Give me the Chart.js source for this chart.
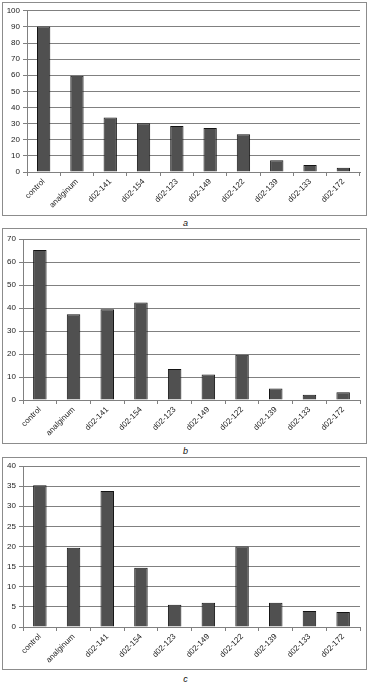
<!DOCTYPE html>
<html>
<head>
<meta charset="utf-8">
<script src="https://cdn.jsdelivr.net/npm/chart.js@4"></script>
<style>
    body { margin: 0; background: #fff; width: 371px; height: 686px; position: relative; font-family: "Liberation Sans", Arial, sans-serif; }
    .panel { position: absolute; left: 2px; width: 363px; border: 1px solid #8c8c8c; }
    .panel canvas { display: block; }
    .caption { position: absolute; left: 0; width: 371px; text-align: center; font-style: italic; font-size: 9px; color: #111; }
</style>
</head>
<body>
<div class="panel" id="panel-a" style="top:2px;height:212px"><canvas id="chart-a"></canvas></div>
<div class="caption" style="top:218px">a</div>
<div class="panel" id="panel-b" style="top:228px;height:214px"><canvas id="chart-b"></canvas></div>
<div class="caption" style="top:446px">b</div>
<div class="panel" id="panel-c" style="top:457px;height:211px"><canvas id="chart-c"></canvas></div>
<div class="caption" style="top:674px">c</div>
<script>
const categories = ["control", "analginum", "d02-141", "d02-154", "d02-123", "d02-149", "d02-122", "d02-139", "d02-133", "d02-172"];

const valuesA = [90.2, 59.7, 33.8, 30.3, 28.6, 27.3, 23.4, 7.3, 4.4, 2.7];
const valuesB = [65.2, 37.3, 39.5, 42.4, 13.5, 11.1, 19.7, 5.0, 2.3, 3.4];
const valuesC = [35.2, 19.7, 33.8, 14.7, 5.5, 6.0, 20.0, 6.0, 4.0, 3.7];

const ticksA = { max: 100, step: 10 };
const ticksB = { max: 70, step: 10 };
const ticksC = { max: 40, step: 5 };

function makeChart(canvasId, values, yTicks, yWidth, xHeight, padTop) {
    let canvas = document.getElementById(canvasId);
    return new Chart(canvas, {
        type: 'bar',
        data: {
            labels: categories,
            datasets: [{
                data: values,
                backgroundColor: '#505050',
                borderColor: '#141414',
                borderWidth: 1,
                categoryPercentage: 1,
                barPercentage: 0.4
            }]
        },
        options: {
            responsive: true,
            maintainAspectRatio: false,
            animation: false,
            layout: { padding: { top: padTop, right: 6, bottom: 0, left: 0 } },
            plugins: {
                legend: { display: false },
                tooltip: { enabled: false }
            },
            scales: {
                x: {
                    offset: true,
                    grid: { display: true, drawOnChartArea: false, drawTicks: true, tickLength: 4, color: '#808080', offset: true },
                    border: { display: true, color: '#808080' },
                    ticks: {
                        color: '#1a1a1a',
                        font: { family: 'Liberation Sans', size: 8 },
                        minRotation: 45,
                        maxRotation: 45,
                        autoSkip: false,
                        padding: 1
                    },
                    afterFit: scale => { scale.height = xHeight; }
                },
                y: {
                    min: 0,
                    max: yTicks.max,
                    grid: { color: '#808080', tickLength: 4, lineWidth: 1 },
                    border: { display: true, color: '#808080' },
                    ticks: {
                        stepSize: yTicks.step,
                        color: '#1a1a1a',
                        font: { family: 'Liberation Sans', size: 8 },
                        padding: 3
                    },
                    afterFit: scale => { scale.width = yWidth; }
                }
            }
        }
    });
}

makeChart("chart-a", valuesA, ticksA, 24, 43, 7);
makeChart("chart-b", valuesB, ticksB, 20, 43, 10);
makeChart("chart-c", valuesC, ticksC, 20, 42, 8);
</script>
</body>
</html>
